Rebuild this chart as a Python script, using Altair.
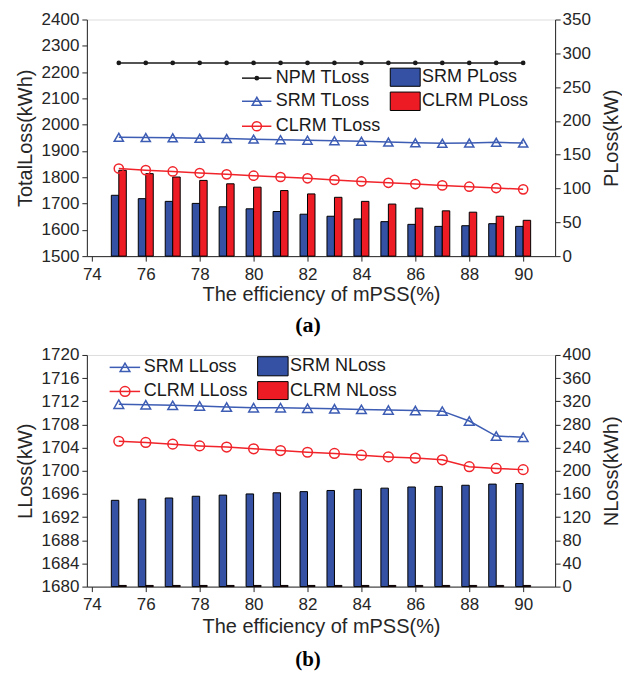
import altair as alt
import pandas as pd

# ---------------- data ----------------
eff = [75, 76, 77, 78, 79, 80, 81, 82, 83, 84, 85, 86, 87, 88, 89, 90]

# panel (a)
npm_tloss = [2235, 2235, 2235, 2235, 2235, 2235, 2235, 2235, 2235, 2235, 2235, 2235, 2235, 2235, 2235, 2235]
srm_tloss = [1952, 1951, 1950, 1948, 1947, 1945, 1943, 1941, 1939, 1937, 1934, 1931, 1929, 1930, 1933, 1930]
clrm_tloss = [1833, 1827, 1822, 1816, 1811, 1806, 1801, 1796, 1790, 1784, 1779, 1774, 1769, 1764, 1759, 1754]
srm_ploss = [90, 85, 81, 78, 73, 70, 66, 62, 59, 55, 51, 47, 44, 45, 48, 44]
clrm_ploss = [127, 122, 117, 112, 107, 102, 97, 92, 87, 81, 77, 71, 67, 65, 59, 53]

# panel (b)
srm_lloss = [1711.5, 1711.4, 1711.3, 1711.2, 1711.0, 1710.9, 1710.9, 1710.8, 1710.7, 1710.6, 1710.5, 1710.4, 1710.3, 1708.6, 1706.0, 1705.8]
clrm_lloss = [1705.1, 1704.9, 1704.6, 1704.3, 1704.1, 1703.8, 1703.5, 1703.2, 1703.0, 1702.7, 1702.4, 1702.2, 1701.9, 1700.7, 1700.4, 1700.2]
srm_nloss = [149, 151, 153, 156, 158, 160, 162, 164, 166, 168, 170, 172, 173, 175, 177, 178]
clrm_nloss = [2, 2, 2, 2, 2, 2, 2, 2, 2, 2, 2, 2, 2, 2, 2, 2]

x_ticks = [74, 76, 78, 80, 82, 84, 86, 88, 90]
a_left_ticks = [1500, 1600, 1700, 1800, 1900, 2000, 2100, 2200, 2300, 2400]
a_right_ticks = [0, 50, 100, 150, 200, 250, 300, 350]
b_left_ticks = [1680, 1684, 1688, 1692, 1696, 1700, 1704, 1708, 1712, 1716, 1720]
b_right_ticks = [0, 40, 80, 120, 160, 200, 240, 280, 320, 360, 400]

# ---------------- style ----------------
FONT = "Liberation Sans"
TXT = "#262626"
BLACK = "#1a1a1a"
BLUE_BAR = "#3451a3"
RED_BAR = "#ed1c24"
BLUE_LINE = "#3d5cb3"
RED_LINE = "#f0242a"
BAR_W = 7.5
W = 469

axis_style = dict(
    labelFont=FONT, labelFontSize=17, labelColor=TXT,
    titleFont=FONT, titleFontSize=20, titleFontWeight="normal", titleColor=TXT,
    domainColor=TXT, tickColor=TXT, tickSize=5, grid=False, format="d",
)


def xenc(title_pad=2):
    return alt.X("eff:Q", scale=alt.Scale(domain=[74, 91], nice=False, zero=False),
                 axis=alt.Axis(values=x_ticks, title="The efficiency of mPSS(%)",
                               labelPadding=5, titlePadding=title_pad, **axis_style))


def line_layer(vals, color, shape, filled, size, yenc, tp):
    df = pd.DataFrame({"eff": eff, "v": vals})
    base = alt.Chart(df)
    ln = base.mark_line(color=color, strokeWidth=1.5).encode(x=xenc(tp), y=yenc)
    pt = base.mark_point(shape=shape, filled=filled, color=color, size=size,
                         strokeWidth=1.5, opacity=1).encode(x=xenc(tp), y=yenc)
    return ln + pt


def bar_layer(vals, color, offset, yenc, tp):
    df = pd.DataFrame({"eff": eff, "p": vals})
    return alt.Chart(df).mark_bar(color=color, width=BAR_W, xOffset=offset,
                                  stroke="black", strokeWidth=1).encode(x=xenc(tp), y=yenc)


def legend_line(label, color, shape, filled, size, x0, x1, xm, xt, yv, yenc_field, tp):
    df_l = pd.DataFrame({"eff": [x0], "e2": [x1], "v": [yv]})
    df_p = pd.DataFrame({"eff": [xm], "v": [yv]})
    df_t = pd.DataFrame({"eff": [xt], "v": [yv], "t": [label]})
    r = alt.Chart(df_l).mark_rule(color=color, strokeWidth=1.5).encode(
        x=xenc(tp), x2="e2:Q", y=yenc_field)
    p = alt.Chart(df_p).mark_point(shape=shape, filled=filled, color=color, size=size,
                                   strokeWidth=1.5, opacity=1).encode(x=xenc(tp), y=yenc_field)
    t = alt.Chart(df_t).mark_text(align="left", baseline="middle", font=FONT, fontSize=18,
                                  color=BLACK, dx=2).encode(x=xenc(tp), y=yenc_field, text="t:N")
    return r + p + t


def legend_box(label, color, x0, x1, y0, y1, xt, yenc_field, tp):
    df_r = pd.DataFrame({"eff": [x0], "e2": [x1], "v": [y0], "v2": [y1]})
    df_t = pd.DataFrame({"eff": [xt], "v": [(y0 + y1) / 2], "t": [label]})
    r = alt.Chart(df_r).mark_rect(color=color, stroke="black", strokeWidth=1).encode(
        x=xenc(tp), x2="e2:Q", y=yenc_field, y2="v2:Q")
    t = alt.Chart(df_t).mark_text(align="left", baseline="middle", font=FONT, fontSize=18,
                                  color=BLACK, dx=0).encode(x=xenc(tp), y=yenc_field, text="t:N")
    return r + t


def caption(txt, offset, size=22):
    return alt.TitleParams(txt, orient="bottom", anchor="middle", font="Liberation Serif",
                           fontSize=size, fontWeight="bold", color="black", offset=offset, dx=-13)


# ---------------- panel (a) ----------------
TPA = 2
ya = alt.Y("v:Q", scale=alt.Scale(domain=[1500, 2400], nice=False, zero=False),
           axis=alt.Axis(values=a_left_ticks, title="TotalLoss(kWh)", labelPadding=3,
                         titlePadding=6, **axis_style))
ya_r = alt.Y("p:Q", scale=alt.Scale(domain=[0, 350], nice=False),
             axis=alt.Axis(values=a_right_ticks, title="PLoss(kW)", orient="right",
                           labelPadding=2, titlePadding=11, titleAngle=270,
                           titleBaseline="top", **axis_style))

left_a = alt.layer(
    line_layer(npm_tloss, BLACK, "circle", True, 22, ya, TPA),
    line_layer(srm_tloss, BLUE_LINE, "triangle-up", False, 85, ya, TPA),
    line_layer(clrm_tloss, RED_LINE, "circle", False, 85, ya, TPA),
    legend_line("NPM TLoss", BLACK, "circle", True, 22, 79.57, 80.66, 80.12, 80.75, 2177, ya, TPA),
    legend_line("SRM TLoss", BLUE_LINE, "triangle-up", False, 85, 79.57, 80.66, 80.12, 80.75, 2089, ya, TPA),
    legend_line("CLRM TLoss", RED_LINE, "circle", False, 85, 79.57, 80.66, 80.12, 80.75, 1994, ya, TPA),
    legend_box("SRM PLoss", BLUE_BAR, 85.07, 86.18, 2215, 2146, 86.25, ya, TPA),
    legend_box("CLRM PLoss", RED_BAR, 85.07, 86.18, 2124, 2054, 86.25, ya, TPA),
)
right_a = alt.layer(
    bar_layer(srm_ploss, BLUE_BAR, -BAR_W / 2, ya_r, TPA),
    bar_layer(clrm_ploss, RED_BAR, BAR_W / 2, ya_r, TPA),
)
panel_a = alt.layer(right_a, left_a).resolve_scale(y="independent").properties(
    width=W, height=237, title=caption("(a)", 11))

# ---------------- panel (b) ----------------
TPB = 4
yb = alt.Y("v:Q", scale=alt.Scale(domain=[1680, 1720], nice=False, zero=False),
           axis=alt.Axis(values=b_left_ticks, title="LLoss(kW)", labelPadding=3,
                         titlePadding=6, **axis_style))
yb_r = alt.Y("p:Q", scale=alt.Scale(domain=[0, 400], nice=False),
             axis=alt.Axis(values=b_right_ticks, title="NLoss(kWh)", orient="right",
                           labelPadding=2, titlePadding=11, titleAngle=270,
                           titleBaseline="top", **axis_style))

left_b = alt.layer(
    line_layer(srm_lloss, BLUE_LINE, "triangle-up", False, 95, yb, TPB),
    line_layer(clrm_lloss, RED_LINE, "circle", False, 95, yb, TPB),
    legend_line("SRM LLoss", BLUE_LINE, "triangle-up", False, 95, 74.66, 75.79, 75.23, 75.85, 1717.86, yb, TPB),
    legend_line("CLRM LLoss", RED_LINE, "circle", False, 95, 74.66, 75.79, 75.23, 75.85, 1713.7, yb, TPB),
    legend_box("SRM NLoss", BLUE_BAR, 80.15, 81.28, 1719.7, 1716.4, 81.35, yb, TPB),
    legend_box("CLRM NLoss", RED_BAR, 80.15, 81.28, 1715.4, 1712.3, 81.35, yb, TPB),
)
right_b = alt.layer(
    bar_layer(srm_nloss, BLUE_BAR, -BAR_W / 2, yb_r, TPB),
    bar_layer(clrm_nloss, RED_BAR, BAR_W / 2, yb_r, TPB),
)
panel_b = alt.layer(right_b, left_b).resolve_scale(y="independent").properties(
    width=W, height=232, title=caption("(b)", 13, 21))

chart = alt.vconcat(panel_a, panel_b, spacing=8).properties(
    padding={"left": 14, "top": 9, "right": 0, "bottom": 0}
).configure_view(stroke=TXT, strokeWidth=1).configure(background="white")

chart.save("out.html", embed_options={"renderer": "svg", "actions": False})
